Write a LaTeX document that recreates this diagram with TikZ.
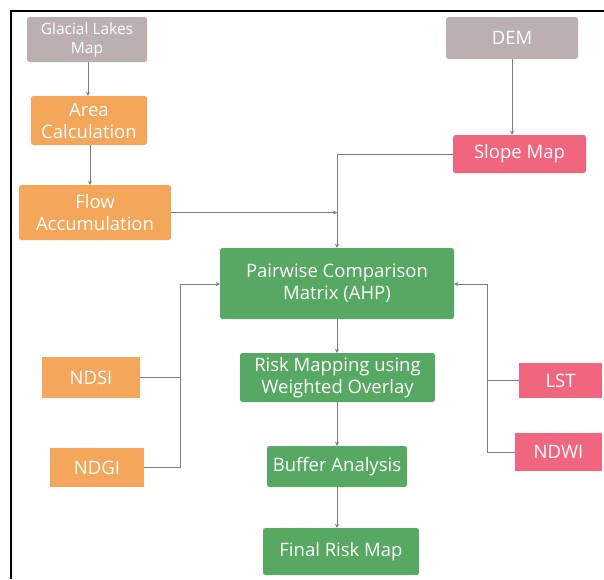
\documentclass[tikz,border=0pt]{standalone}
\usepackage{fontspec}
\setmainfont{Open Sans}
\usetikzlibrary{arrows.meta}
\definecolor{cgray}{HTML}{BBB0AF}
\definecolor{corange}{HTML}{F4A65A}
\definecolor{cgreen}{HTML}{56A862}
\definecolor{cpink}{HTML}{F0667F}
\definecolor{cline}{HTML}{7E7E7E}
\begin{document}
\begin{tikzpicture}[x=1pt,y=-1pt,
  box/.style={rounded corners=2.5pt,text=white,align=center,inner sep=0pt,
    font=\fontsize{18.5}{22}\selectfont},
  graybox/.style={box,fill=cgray,font=\fontsize{15.5}{19}\selectfont},
  orangebox/.style={box,fill=corange},
  greenbox/.style={box,fill=cgreen},
  pinkbox/.style={box,fill=cpink},
  conn/.style={draw=cline,line width=1pt},
  arr/.style={conn,-{Stealth[length=4pt,width=4pt]}}]
\useasboundingbox (0,0) rectangle (604,579);
\draw[line width=1.6pt] (11,579) -- (11,11) -- (604,11);
% nodes
\node[graybox,minimum width=120pt,minimum height=45pt] (glac) at (87,39.5) {Glacial Lakes\\Map};
\node[orangebox,minimum width=116pt,minimum height=49pt] (area) at (89,120.5) {Area\\Calculation};
\node[orangebox,minimum width=152pt,minimum height=55pt] (flow) at (95,212.5) {Flow\\Accumulation};
\node[graybox,minimum width=132pt,minimum height=42pt,font=\fontsize{18.5}{22}\selectfont] (dem) at (512,38) {DEM};
\node[pinkbox,minimum width=133pt,minimum height=38pt] (slope) at (519.5,154) {Slope Map};
\node[greenbox,minimum width=234pt,minimum height=71pt] (pair) at (337,283.5) {Pairwise Comparison\\Matrix (AHP)};
\node[greenbox,minimum width=195pt,minimum height=49pt] (risk) at (337.5,377.5) {Risk Mapping using\\Weighted Overlay};
\node[greenbox,minimum width=140pt,minimum height=41pt] (buf) at (337,466.5) {Buffer Analysis};
\node[greenbox,minimum width=156pt,minimum height=47pt] (final) at (341,551.5) {Final Risk Map};
\node[orangebox,rounded corners=0pt,minimum width=98pt,minimum height=41pt] (ndsi) at (91,377.5) {NDSI};
\node[orangebox,rounded corners=0pt,minimum width=94pt,minimum height=39pt] (ndgi) at (97,467.5) {NDGI};
\node[pinkbox,rounded corners=0pt,minimum width=83pt,minimum height=35pt] (lst) at (560.5,380.5) {LST};
\node[pinkbox,rounded corners=0pt,minimum width=87pt,minimum height=38pt] (ndwi) at (558.5,452) {NDWI};
% junction coordinates
\coordinate (jflow) at (337,212.5);
\coordinate (jslope) at (337,154);
\coordinate (lbus) at (180,284);
\coordinate (rbus) at (487,284);
% connectors
\draw[arr] (glac.south -| 88,0) -- (area.north -| 88,0);
\draw[arr] (area.south -| 90,0) -- (flow.north -| 90,0);
\draw[arr] (dem) -- (slope.north -| dem);
\draw[arr] (slope.west) -- (jslope) -- (pair.north);
\draw[arr] (flow.east) -- (jflow);
\draw[arr] (pair) -- (risk.north -| pair);
\draw[arr] (risk.south -| pair) -- (buf.north -| pair);
\draw[arr] (buf.south -| pair) -- (final.north -| pair);
\draw[conn] (ndsi.east) -- (ndsi.east -| lbus);
\draw[arr] (ndgi.east) -- (ndgi.east -| lbus) -- (lbus) -- (lbus -| pair.west);
\draw[conn] (lst.west) -- (lst.west -| rbus);
\draw[arr] (ndwi.west) -- (ndwi.west -| rbus) -- (rbus) -- (rbus -| pair.east);
\end{tikzpicture}
\end{document}
